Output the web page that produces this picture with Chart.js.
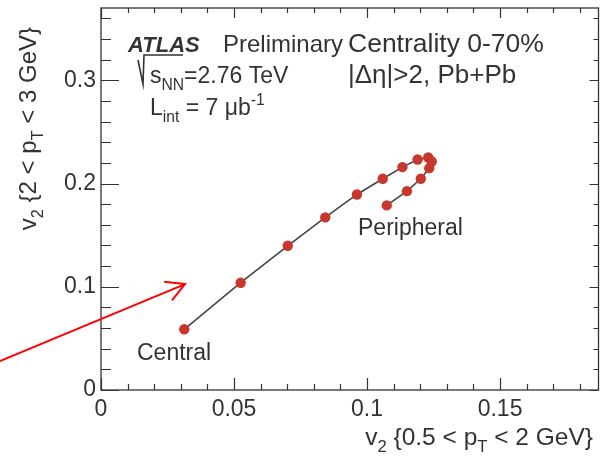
<!DOCTYPE html>
<html><head><meta charset="utf-8">
<script src="https://cdn.jsdelivr.net/npm/chart.js@4/dist/chart.umd.min.js"></script>
<style>html,body{margin:0;padding:0;background:#fff;}#wrap{width:600px;height:458px;}</style>
</head><body><div id="wrap"><canvas id="c" width="600" height="458"></canvas></div>
<script>
// v2{0.5<pT<2 GeV} (x) and v2{2<pT<3 GeV} (y), central -> peripheral
const v2Low  = [0.0313, 0.0525, 0.0702, 0.0843, 0.0962, 0.1059, 0.1133, 0.1190, 0.1230, 0.1243, 0.1234, 0.1202, 0.1150, 0.1074];
const v2High = [0.0588, 0.1039, 0.1397, 0.1672, 0.1894, 0.2046, 0.2159, 0.2233, 0.2252, 0.2213, 0.2149, 0.2046, 0.1926, 0.1788];
const xTickLabels = [0, 0.05, 0.1, 0.15];
const yTickLabels = [0, 0.1, 0.2, 0.3];
const xRange = [0, 0.187];
const yRange = [0, 0.37];

const FONT = "'Liberation Sans', Arial, Helvetica, sans-serif";
const TXT = '#333333';
const PLOT_RIGHT = 598.5;

function rich(ctx, parts, x, y, size, align) {
  const items = parts.map(([t, m, f]) => {
    const s = m ? size * 0.68 : size;
    const font = (f || '') + ' ' + s + 'px ' + FONT;
    ctx.font = font;
    return {t, m, font, w: ctx.measureText(t).width};
  });
  const total = items.reduce((a, b) => a + b.w, 0);
  let cx = align === 'right' ? x - total : x;
  ctx.textAlign = 'left';
  ctx.textBaseline = 'alphabetic';
  for (const it of items) {
    ctx.font = it.font;
    const dy = it.m === 'sub' ? size * 0.3 : it.m === 'sup' ? -size * 0.42 : 0;
    ctx.fillText(it.t, cx, y + dy);
    cx += it.w;
  }
  return total;
}

const decor = {
  id: 'decor',
  afterLayout(chart) {
    // stretch the plot frame to the right edge of the figure
    const xs = chart.scales.x;
    chart.chartArea.right = PLOT_RIGHT;
    chart.chartArea.width = PLOT_RIGHT - chart.chartArea.left;
    xs.right = PLOT_RIGHT;
    xs.width = PLOT_RIGHT - xs.left;
    xs.configure();
  },
  afterDraw(chart) {
    const ctx = chart.ctx;
    const xs = chart.scales.x, ys = chart.scales.y;
    const a = chart.chartArea;
    ctx.save();
    ctx.strokeStyle = '#333';
    ctx.lineWidth = 1.3;
    ctx.strokeRect(a.left, a.top, a.right - a.left, a.bottom - a.top);
    ctx.lineWidth = 1.2;
    ctx.beginPath();
    for (let i = 0; i * 0.01 <= xRange[1] + 1e-9; i++) {
      const px = Math.round(xs.getPixelForValue(i * 0.01)) + 0.5;
      const major = i % 5 === 0;
      ctx.moveTo(px, a.bottom); ctx.lineTo(px, a.bottom - (major ? 12 : 6));
      ctx.moveTo(px, a.top); ctx.lineTo(px, a.top + (major ? 10 : 5));
    }
    for (let i = 0; i * 0.02 <= yRange[1] + 1e-9; i++) {
      const py = Math.round(ys.getPixelForValue(i * 0.02)) + 0.5;
      const major = i % 5 === 0;
      ctx.moveTo(a.left, py); ctx.lineTo(a.left + (major ? 18 : 10), py);
      ctx.moveTo(a.right, py); ctx.lineTo(a.right - (major ? 9 : 5), py);
    }
    ctx.stroke();

    ctx.fillStyle = TXT;
    rich(ctx, [['v',''],['2','sub'],[' {0.5 < p',''],['T','sub'],[' < 2 GeV}','']], 593, 445, 24.5, 'right');
    ctx.save();
    ctx.translate(36, 27);
    ctx.rotate(-Math.PI / 2);
    rich(ctx, [['v',''],['2','sub'],[' {2 < p',''],['T','sub'],[' < 3 GeV}','']], 0, 0, 24, 'right');
    ctx.restore();

    rich(ctx, [['ATLAS','', 'italic bold']], 128, 52, 22, 'left');
    rich(ctx, [['Preliminary','']], 223, 52, 24, 'left');
    rich(ctx, [['Centrality 0-70%','']], 348, 52, 26.5, 'left');
    rich(ctx, [['|\u0394\u03b7|>2, Pb+Pb','']], 348, 83, 26, 'left');
    ctx.strokeStyle = TXT; ctx.lineWidth = 1.6;
    ctx.beginPath();
    ctx.moveTo(138, 60); ctx.lineTo(143, 84); ctx.lineTo(144, 55); ctx.lineTo(183, 55);
    ctx.stroke();
    rich(ctx, [['s',''],['NN','sub'],['=2.76 TeV','']], 150, 83, 23, 'left');
    rich(ctx, [['L',''],['int','sub'],[' = 7 \u03bcb',''],['-1','sup']], 150, 115, 23, 'left');
    rich(ctx, [['Central','']], 137, 360, 23, 'left');
    rich(ctx, [['Peripheral','']], 358, 235, 23, 'left');

    const x0 = xs.getPixelForValue(-0.038), y0 = ys.getPixelForValue(0.0280);
    const x1 = xs.getPixelForValue(0.0316), y1 = ys.getPixelForValue(0.1026);
    ctx.strokeStyle = '#ff0000'; ctx.lineWidth = 2;
    ctx.beginPath();
    ctx.moveTo(x0, y0); ctx.lineTo(x1, y1);
    const ang = Math.atan2(y1 - y0, x1 - x0);
    const L = 21, sp = 0.5;
    ctx.moveTo(x1 - L * Math.cos(ang - sp), y1 - L * Math.sin(ang - sp));
    ctx.lineTo(x1, y1);
    ctx.lineTo(x1 - L * Math.cos(ang + sp), y1 - L * Math.sin(ang + sp));
    ctx.stroke();
    ctx.restore();
  }
};

const points = v2Low.map((x, i) => ({x, y: v2High[i]}));

new Chart(document.getElementById('c'), {
  type: 'scatter',
  data: { datasets: [{
    data: points,
    showLine: true,
    borderColor: '#454545',
    borderWidth: 1.6,
    pointRadius: 5.2,
    pointBackgroundColor: '#c8372b',
    pointBorderColor: '#c8372b',
    pointBorderWidth: 0,
    tension: 0
  }]},
  options: {
    responsive: false,
    animation: false,
    devicePixelRatio: 1,
    layout: { padding: { top: 8, right: 1, left: 0, bottom: 0 } },
    plugins: { legend: { display: false }, tooltip: { enabled: false } },
    scales: {
      x: {
        type: 'linear', min: xRange[0], max: xRange[1],
        grid: { display: false, drawTicks: false },
        border: { display: false },
        afterBuildTicks: s => { s.ticks = xTickLabels.map(v => ({value: v})); },
        afterFit: s => { s.height = 68; s.paddingLeft = 0; s.paddingRight = 0; },
        ticks: { color: TXT, padding: 6, maxRotation: 0, autoSkip: false,
          font: { family: FONT, size: 23 },
          callback: v => String(+v.toFixed(2)) }
      },
      y: {
        type: 'linear', min: yRange[0], max: yRange[1],
        grid: { display: false, drawTicks: false },
        border: { display: false },
        afterBuildTicks: s => { s.ticks = yTickLabels.map(v => ({value: v})); },
        afterFit: s => { s.width = 101; s.paddingTop = 0; s.paddingBottom = 0; },
        ticks: { color: TXT, padding: 5, autoSkip: false,
          font: { family: FONT, size: 23 },
          callback: v => String(+v.toFixed(2)) }
      }
    }
  },
  plugins: [decor]
});
</script></body></html>
